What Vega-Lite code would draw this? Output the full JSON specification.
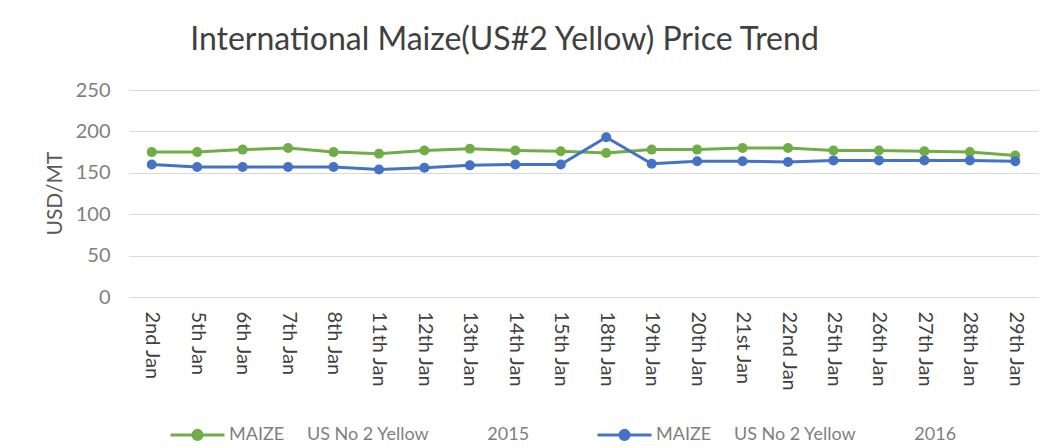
{
  "$schema": "https://vega.github.io/schema/vega-lite/v6.json",
  "width": 909,
  "height": 207,
  "autosize": {"type": "none"},
  "padding": {"left": 129, "top": 90, "right": 5, "bottom": 151},
  "background": "white",
  "title": {
    "text": "International Maize(US#2 Yellow) Price Trend",
    "font": "Lato",
    "fontSize": 32,
    "fontWeight": "normal",
    "color": "#404040",
    "anchor": "middle",
    "dx": -79,
    "offset": 23
  },
  "data": {
    "values": [
      {"date": "2nd Jan", "series": "2015", "price": 175},
      {"date": "5th Jan", "series": "2015", "price": 175},
      {"date": "6th Jan", "series": "2015", "price": 178},
      {"date": "7th Jan", "series": "2015", "price": 180},
      {"date": "8th Jan", "series": "2015", "price": 175},
      {"date": "11th Jan", "series": "2015", "price": 173},
      {"date": "12th Jan", "series": "2015", "price": 177},
      {"date": "13th Jan", "series": "2015", "price": 179},
      {"date": "14th Jan", "series": "2015", "price": 177},
      {"date": "15th Jan", "series": "2015", "price": 176},
      {"date": "18th Jan", "series": "2015", "price": 174},
      {"date": "19th Jan", "series": "2015", "price": 178},
      {"date": "20th Jan", "series": "2015", "price": 178},
      {"date": "21st Jan", "series": "2015", "price": 180},
      {"date": "22nd Jan", "series": "2015", "price": 180},
      {"date": "25th Jan", "series": "2015", "price": 177},
      {"date": "26th Jan", "series": "2015", "price": 177},
      {"date": "27th Jan", "series": "2015", "price": 176},
      {"date": "28th Jan", "series": "2015", "price": 175},
      {"date": "29th Jan", "series": "2015", "price": 171},
      {"date": "2nd Jan", "series": "2016", "price": 160},
      {"date": "5th Jan", "series": "2016", "price": 157},
      {"date": "6th Jan", "series": "2016", "price": 157},
      {"date": "7th Jan", "series": "2016", "price": 157},
      {"date": "8th Jan", "series": "2016", "price": 157},
      {"date": "11th Jan", "series": "2016", "price": 154},
      {"date": "12th Jan", "series": "2016", "price": 156},
      {"date": "13th Jan", "series": "2016", "price": 159},
      {"date": "14th Jan", "series": "2016", "price": 160},
      {"date": "15th Jan", "series": "2016", "price": 160},
      {"date": "18th Jan", "series": "2016", "price": 193},
      {"date": "19th Jan", "series": "2016", "price": 161},
      {"date": "20th Jan", "series": "2016", "price": 164},
      {"date": "21st Jan", "series": "2016", "price": 164},
      {"date": "22nd Jan", "series": "2016", "price": 163},
      {"date": "25th Jan", "series": "2016", "price": 165},
      {"date": "26th Jan", "series": "2016", "price": 165},
      {"date": "27th Jan", "series": "2016", "price": 165},
      {"date": "28th Jan", "series": "2016", "price": 165},
      {"date": "29th Jan", "series": "2016", "price": 164}
    ]
  },
  "mark": {
    "type": "line",
    "strokeWidth": 3,
    "point": {"filled": true, "size": 100}
  },
  "encoding": {
    "x": {
      "field": "date",
      "type": "ordinal",
      "sort": null,
      "title": null,
      "axis": {
        "labelAngle": 90,
        "labelAlign": "left",
        "labelBaseline": "middle",
        "labelFont": "Lato",
        "labelFontSize": 20,
        "labelColor": "#404040",
        "labelPadding": 14,
        "ticks": false,
        "domainColor": "#d9d9d9",
        "domainWidth": 1,
        "grid": false
      }
    },
    "y": {
      "field": "price",
      "type": "quantitative",
      "scale": {"domain": [0, 250]},
      "title": "USD/MT",
      "axis": {
        "values": [0, 50, 100, 150, 200, 250],
        "labelFont": "Lato",
        "labelFontSize": 20,
        "labelColor": "#7f7f7f",
        "labelPadding": 19,
        "titleFont": "Lato",
        "titleFontSize": 21,
        "titleFontWeight": "normal",
        "titleColor": "#595959",
        "titleX": -74,
        "titleY": 103,
        "titleAngle": -90,
        "titleAlign": "center",
        "titleBaseline": "middle",
        "ticks": false,
        "domain": false,
        "gridColor": "#d9d9d9",
        "gridWidth": 1
      }
    },
    "color": {
      "field": "series",
      "type": "nominal",
      "scale": {"domain": ["2015", "2016"], "range": ["#70ad47", "#4472c4"]},
      "legend": {
        "orient": "none",
        "direction": "horizontal",
        "legendX": 40,
        "legendY": 316,
        "title": null,
        "labelExpr": "'MAIZE\u2003\u00a0\u00a0US No 2 Yellow\u2003\u2003\u2003\u2002\u00a0\u00a0' + datum.label",
        "labelFont": "Lato",
        "labelFontSize": 18,
        "labelColor": "#7f7f7f",
        "labelLimit": 0,
        "labelOffset": 3,
        "columnPadding": 61,
        "symbolType": "M-1,0L-0.17,0M0.17,0L1,0M0.17,0A0.17,0.17,0,1,1,-0.17,0A0.17,0.17,0,1,1,0.17,0Z",
        "symbolSize": 2916,
        "symbolStrokeWidth": 3,
        "encode": {
          "symbols": {
            "update": {
              "fill": {"scale": "color", "field": "value"},
              "fillOpacity": {"value": 1}
            }
          }
        }
      }
    }
  },
  "config": {
    "view": {"stroke": null},
    "font": "Lato"
  }
}
